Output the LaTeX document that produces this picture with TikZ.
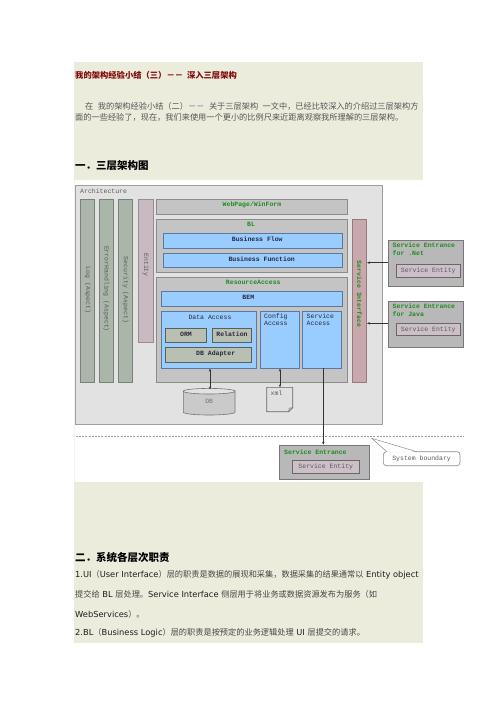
\documentclass[tikz,border=0pt]{standalone}
\usepackage{fontspec}
\setmainfont{DejaVu Sans}
\newfontfamily\cjk{Noto Sans CJK SC}
\newfontfamily\ver{DejaVu Sans}
\newfontfamily\mono{Liberation Mono}
\usetikzlibrary{arrows.meta,fit}
\definecolor{beige}{RGB}{236,236,221}
\definecolor{titlered}{RGB}{128,10,10}
\definecolor{bodygray}{RGB}{85,85,85}
\definecolor{linkc}{RGB}{80,96,160}
\definecolor{archF}{RGB}{226,226,226}
\definecolor{archB}{RGB}{160,160,160}
\definecolor{aspF}{RGB}{170,182,170}
\definecolor{aspB}{RGB}{120,130,120}
\definecolor{entF}{RGB}{201,185,193}
\definecolor{entB}{RGB}{150,140,145}
\definecolor{grayF}{RGB}{196,196,196}
\definecolor{grayB}{RGB}{140,140,140}
\definecolor{blueF}{RGB}{153,204,255}
\definecolor{blueB}{RGB}{90,120,160}
\definecolor{ormF}{RGB}{185,192,178}
\definecolor{ormB}{RGB}{90,95,90}
\definecolor{siF}{RGB}{200,168,172}
\definecolor{siB}{RGB}{150,120,125}
\definecolor{seF}{RGB}{184,184,184}
\definecolor{seB}{RGB}{120,120,120}
\definecolor{seInF}{RGB}{204,192,200}
\definecolor{seInB}{RGB}{110,100,105}
\definecolor{lblgreen}{RGB}{30,140,30}
\definecolor{lbldark}{RGB}{40,40,60}
\definecolor{lblgray}{RGB}{90,90,90}
\definecolor{cjkgray}{RGB}{70,70,70}
\definecolor{latdark}{RGB}{30,30,30}
\newcommand{\lat}[1]{{\ver\color{latdark}\fontsize{8.3}{10}\selectfont #1}}
\begin{document}
\begin{tikzpicture}[x=1pt,y=-1pt,
  bx/.style={inner sep=0pt, line width=0.6pt},
  archbox/.style={bx, draw=archB, fill=archF},
  aspbar/.style={bx, draw=aspB, fill=aspF},
  entbar/.style={bx, draw=entB, fill=entF},
  graybox/.style={bx, draw=grayB, fill=grayF},
  bluebox/.style={bx, draw=blueB, fill=blueF},
  ormbox/.style={bx, draw=ormB, fill=ormF},
  sibar/.style={bx, draw=siB, fill=siF},
  sebox/.style={bx, draw=seB, fill=seF},
  seinbox/.style={bx, draw=seInB, fill=seInF},
  mt/.style={inner sep=0pt, font=\mono\fontsize{6.5}{7.3}\selectfont},
  gl/.style={mt, text=lblgreen, font=\mono\bfseries\fontsize{6.5}{7.3}\selectfont},
  dl/.style={mt, text=lbldark, font=\mono\bfseries\fontsize{6.5}{7.3}\selectfont},
  nl/.style={mt, text=lbldark},
  gr/.style={mt, text=lblgray},
  cn/.style={inner sep=0pt, anchor=west, text=bodygray, font=\cjk\fontsize{8.2}{10}\selectfont},
  conn/.style={line width=0.5pt, draw=black!80},
  tip/.style={-{Stealth[length=3pt,width=2.4pt]}},
  biptip/.style={{Stealth[length=3pt,width=2.4pt]}-{Stealth[length=3pt,width=2.4pt]}}
]
\useasboundingbox[fill=white] (0,0) rectangle (496,702);
\fill[beige] (74,62) rectangle (423,180);
\fill[beige] (74,482) rectangle (423,643);
\fill[beige!60] (74,180) rectangle (75.3,482);

% ---------- top text ----------
\node[cn, text=titlered, font=\cjk\bfseries\fontsize{8.3}{10}\selectfont] (title) at (75,75) {我的架构经验小结（三）－－\hspace{4pt}深入三层架构};
\node[cn] (p1) at (85,106) {在\hspace{4.5pt}我的架构经验小结（二）{\color{linkc}－－}\hspace{4.5pt}关于三层架构\hspace{4.5pt}一文中，已经比较深入的介绍过三层架构方};
\node[cn] (p2) at (75,117) {面的一些经验了，现在，我们来使用一个更小的比例尺来近距离观察我所理解的三层架构。};
\node[cn, text=black, font=\cjk\bfseries\fontsize{10.5}{12}\selectfont] (h1) at (75,166) {一．三层架构图};

% ---------- diagram boxes ----------
\node[archbox, fit={(75.7,185) (382.7,424.3)}] (arch) {};
\node[gr, anchor=west] (tarch) at (80,190.7) {Architecture};

\node[aspbar, fit={(80.7,199.3) (94.7,382.3)}] (log) {};
\node[aspbar, fit={(99.3,199.3) (113.3,382.3)}] (err) {};
\node[aspbar, fit={(118.3,199.3) (132.7,382.3)}] (sec) {};
\node[entbar, fit={(138.3,199.3) (153.3,342.3)}] (ent) {};
\node[gr, rotate=-90] (tlog) at (87.7,290) {Log (Aspect)};
\node[gr, rotate=-90] (terr) at (106.3,289) {ErrorHandling (Aspect)};
\node[gr, rotate=-90] (tsec) at (125.5,290) {Security (Aspect)};
\node[gr, rotate=-90] (tent) at (145.8,265) {Entity};

\node[graybox, fit={(156,199.3) (347.7,214.3)}] (web) {};
\node[gl] (tweb) at (252,205) {WebPage/WinForm};

\node[graybox, fit={(156,219.3) (347.7,272.3)}] (bl) {};
\node[gl] (tbl) at (251,224.5) {BL};
\node[bluebox, fit={(163.3,233.3) (342.7,248.3)}] (bflow) {};
\node[dl] (tbflow) at (257.3,239.5) {Business Flow};
\node[bluebox, fit={(163.3,253.3) (342.7,267.7)}] (bfunc) {};
\node[dl] (tbfunc) at (261.7,258.8) {Business Function};

\node[graybox, fit={(156,277) (347.7,382.3)}] (ra) {};
\node[gl] (tra) at (253.3,282.6) {ResourceAccess};
\node[bluebox, fit={(161,291.7) (342.7,306.7)}] (bem) {};
\node[dl] (tbem) at (248.3,297.3) {BEM};

\node[bluebox, fit={(161,311.3) (256.3,368.3)}] (da) {};
\node[nl] (tda) at (210,317) {Data Access};
\node[ormbox, fit={(165.3,328.3) (206.7,342.7)}] (orm) {};
\node[dl] (torm) at (186,334.3) {ORM};
\node[ormbox, fit={(212.3,328.3) (251.7,342.7)}] (rel) {};
\node[dl] (trel) at (232,334.3) {Relation};
\node[ormbox, fit={(165.3,347.3) (251.7,362.3)}] (dba) {};
\node[dl] (tdba) at (215.7,353.5) {DB Adapter};

\node[bluebox, fit={(260.3,311.3) (299.3,368.3)}] (ca) {};
\node[nl, anchor=north west, align=left] (tca) at (264,313.7) {Config\\Access};
\node[bluebox, fit={(302.3,311.3) (341.3,368.3)}] (sa) {};
\node[nl, anchor=north west, align=left] (tsa) at (306.5,313.7) {Service\\Access};

\node[sibar, fit={(352.3,219.3) (366.7,382.3)}] (si) {};
\node[gl, rotate=-90] (tsi) at (359.5,294) {Service Interface};

% DB cylinder
\filldraw[fill=grayF!90, draw=black!55, line width=0.6pt]
  (183.3,391.2) -- (183.3,412.2) arc[start angle=180, end angle=360, x radius=25.85pt, y radius=2.8pt]
  -- (235,391.2) arc[start angle=0, end angle=-180, x radius=25.85pt, y radius=2.8pt] -- cycle;
\draw[draw=black!55, line width=0.6pt] (183.3,391.2) arc[start angle=180, end angle=360, x radius=25.85pt, y radius=-2.8pt];
\node[gr, text=black!55] (db) at (209.2,401) {DB};
\coordinate (dbtop) at (210,389.5);

% xml document
\filldraw[fill=black!12, draw=black!60, line width=0.6pt]
  (266.7,387.3) -- (292.7,387.3) -- (292.7,407.7) -- (288.7,411.7) -- (266.7,411.7) -- cycle;
\draw[draw=black!60, line width=0.5pt] (292.7,407.7) -- (289.2,408.2) -- (288.7,411.7);
\node[gr, anchor=west] (xml) at (270.5,393.5) {xml};
\coordinate (xmltop) at (280,387.3);

% ---------- service entrances ----------
\node[sebox, fit={(388.3,240.7) (463.3,286)}] (senet) {};
\node[gl, anchor=north west, align=left] (tsenet) at (392.5,243) {Service Entrance\\for .Net};
\node[seinbox, fit={(396.7,264.7) (460,277.3)}] (senetin) {};
\node[gr] (tsenetin) at (428.3,271) {Service Entity};

\node[sebox, fit={(388.3,301.7) (463.3,347)}] (sejava) {};
\node[gl, anchor=north west, align=left] (tsejava) at (392.5,304) {Service Entrance\\for Java};
\node[seinbox, fit={(396.7,323.3) (460,335.7)}] (sejavain) {};
\node[gr] (tsejavain) at (428.3,329.5) {Service Entity};

% dashed system boundary
\coordinate (bl1) at (75.7,436);
\coordinate (bl2) at (463.3,436);
\draw[draw=black!40, line width=0.6pt, dash pattern=on 2pt off 1.2pt] (bl1) -- (bl2);

\node[sebox, fit={(279.3,445) (369.3,479.3)}] (sebot) {};
\node[gl, anchor=west] (tsebot) at (284,452) {Service Entrance};
\node[seinbox, fit={(292.3,460) (359.3,473.3)}] (sebotin) {};
\node[gr] (tsebotin) at (325.8,466.7) {Service Entity};

% callout
\node[bx, draw=black!45, fill=white, rounded corners=3pt, fit={(383.3,451.7) (460,465.7)}] (sysb) {};
\coordinate (ctip) at (371.7,438.3);
\fill[white] (387,452.6) -- (ctip) -- (416.7,452.6) -- cycle;
\draw[draw=black!45, line width=0.5pt] (387,451.9) -- (ctip) -- (416.7,451.7);
\node[gr] (tsysb) at (421.6,458.7) {System boundary};

% ---------- connectors ----------
\draw[conn, biptip] (dbtop |- da.south) -- (dbtop);
\draw[conn, biptip] (xmltop |- ca.south) -- (xmltop);
\draw[conn, tip] (323.3,368.3) coordinate (saout) -- (saout |- sebot.north);
\draw[conn, tip] (senet.west |- 0,262.7) -- (si.east |- 0,262.7);
\draw[conn, tip] (sejava.west |- 0,323.3) -- (si.east |- 0,323.3);

% ---------- section 2 ----------
\node[cn, text=black, font=\cjk\bfseries\fontsize{10.5}{12}\selectfont] (h2) at (75,557) {二．系统各层次职责};
\node[cn, text=cjkgray] (q1) at (75,575) {\lat{1.UI}（\lat{User Interface}）层的职责是数据的展现和采集，数据采集的结果通常以\lat{\ Entity object}};
\node[cn, text=cjkgray] (q2) at (75,594.7) {提交给\lat{\ BL }层处理。\lat{Service Interface }侧层用于将业务或数据资源发布为服务（如};
\node[cn, text=cjkgray] (q3) at (75,614) {\lat{WebServices}）。};
\node[cn, text=cjkgray] (q4) at (75,632.7) {\lat{2.BL}（\lat{Business Logic}）层的职责是按预定的业务逻辑处理\lat{\ UI }层提交的请求。};
\end{tikzpicture}
\end{document}
